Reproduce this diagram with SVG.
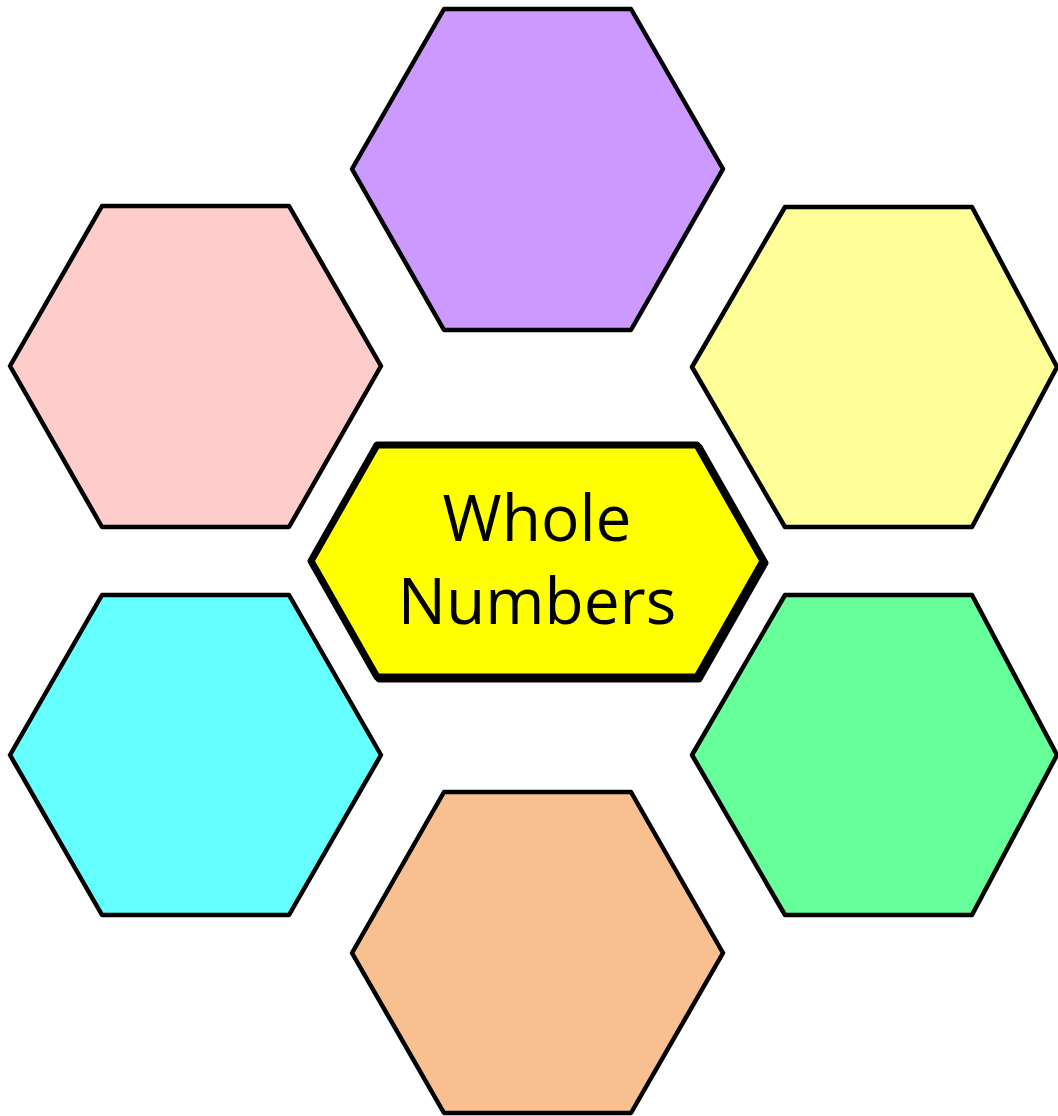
<svg xmlns="http://www.w3.org/2000/svg" width="1058" height="1116" viewBox="0 0 1058 1116">
<style>
.hex{stroke:#000;stroke-width:4.5;stroke-linejoin:round}
.center{fill:#ffff00;stroke:#000;stroke-width:7;stroke-linejoin:round}
.label{font-family:"Open Sans","Noto Sans",sans-serif;font-size:64px;fill:#000;text-anchor:middle}
</style>
<rect width="1058" height="1116" fill="#fff"/>
<g id="hex-top"><polygon class="hex" fill="#cc99ff" points="444,9 631,9 723,169 631,330 444,330 352,169"/></g>
<g id="hex-upper-left"><polygon class="hex" fill="#ffcccc" points="102,206 289,206 381,366 289,527 102,527 10,366"/></g>
<g id="hex-upper-right"><polygon class="hex" fill="#ffff99" points="785,207 972,207 1057,367 972,527 785,527 692,367"/></g>
<g id="hex-lower-left"><polygon class="hex" fill="#66ffff" points="102,595 289,595 381,755 289,915 102,915 10,755"/></g>
<g id="hex-lower-right"><polygon class="hex" fill="#66ff99" points="785,595 972,595 1057,755 972,915 785,915 692,755"/></g>
<g id="hex-bottom"><polygon class="hex" fill="#f8c090" points="444,792 631,792 723,953 631,1113 444,1113 352,953"/></g>
<g id="center">
<polygon fill="#000" stroke="#000" stroke-width="7" stroke-linejoin="round" points="313,563 379,447 699,447 765,563 699,679 379,679"/>
<polygon class="center" points="311,561 377,445 697,445 763,561 697,677 377,677"/>
<text class="label" x="537" y="541">Whole</text>
<text class="label" x="537" y="624">Numbers</text>
</g>
<g id="connectors"/>
</svg>
